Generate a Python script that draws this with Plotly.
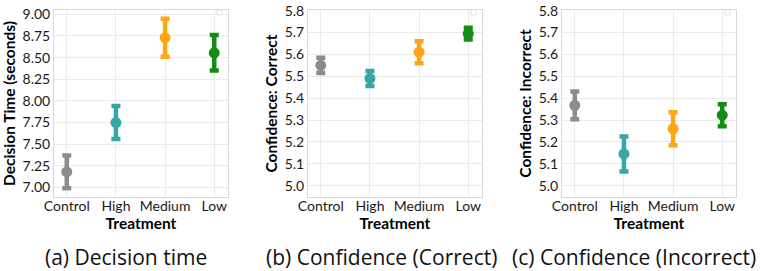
import plotly.graph_objects as go

categories = ["Control", "High", "Medium", "Low"]
colors = ["#8c8c8c", "#36a6a6", "#ffa616", "#158c15"]

decision_mean = [7.18, 7.75, 8.73, 8.555]
decision_err = [0.19, 0.19, 0.22, 0.205]

conf_correct_mean = [5.55, 5.49, 5.61, 5.695]
conf_correct_err = [0.035, 0.034, 0.05, 0.027]

conf_incorrect_mean = [5.367, 5.145, 5.26, 5.322]
conf_incorrect_err = [0.063, 0.08, 0.075, 0.05]

y_titles = ["Decision Time (seconds)", "Confidence: Correct", "Confidence: Incorrect"]
captions = ["(a) Decision time", "(b) Confidence (Correct)", "(c) Confidence (Incorrect)"]

W, H = 761, 271
panels_px = [(54, 228), (308, 482), (562, 736)]
y_top, y_bot = 10, 197

fig = go.Figure()
data = [(decision_mean, decision_err), (conf_correct_mean, conf_correct_err),
        (conf_incorrect_mean, conf_incorrect_err)]
yranges = [[6.89, 9.05], [4.948, 5.803], [4.948, 5.803]]
dticks = [0.25, 0.1, 0.1]
fmts = [".2f", ".1f", ".1f"]

tick_font = dict(family="Lato, Open Sans, sans-serif", size=14, color="#1a1a1a")
title_font = dict(family="Lato, Open Sans, sans-serif", size=15.5, color="#000000")

def fx(px):
    return px / W

def fy(py):
    return 1 - py / H

for p, (means, errs) in enumerate(data):
    xa = "x" if p == 0 else f"x{p+1}"
    ya = "y" if p == 0 else f"y{p+1}"
    for i, cat in enumerate(categories):
        fig.add_trace(go.Scatter(
            x=[cat], y=[means[i]], mode="markers",
            marker=dict(color=colors[i], size=11),
            error_y=dict(type="data", array=[errs[i]], color=colors[i],
                         thickness=4.5, width=4.5),
            xaxis=xa, yaxis=ya, showlegend=False,
        ))
    x0, x1 = panels_px[p]
    axsuffix = "" if p == 0 else str(p + 1)
    fig.update_layout(**{
        f"xaxis{axsuffix}": dict(
            domain=[fx(x0), fx(x1)], anchor=ya, automargin=False,
            categoryorder="array", categoryarray=categories,
            range=[-0.26, 3.28], showgrid=True, gridcolor="#ebebeb",
            showline=True, linecolor="#d9d9d9", mirror=True, linewidth=1,
            ticks="", tickfont=tick_font, zeroline=False,
            ticklabelstandoff=-4,
            title=dict(text="<b>Treatment</b>", font=title_font, standoff=0),
        ),
        f"yaxis{axsuffix}": dict(
            domain=[fy(y_bot), fy(y_top)], anchor=xa, automargin=False,
            range=yranges[p], dtick=dticks[p], tick0=5.0 if p else 7.0,
            tickformat=fmts[p], showgrid=True, gridcolor="#ebebeb",
            showline=True, linecolor="#d9d9d9", mirror=True, linewidth=1,
            ticks="", tickfont=tick_font, zeroline=False,
            ticklabeloverflow="allow",
            title=dict(text=f"<b>{y_titles[p]}</b>", font=title_font, standoff=3),
        ),
    })
    # faint empty legend box in the top-right corner
    fig.add_shape(type="rect", xref="paper", yref="paper",
                  x0=fx(x1 - 11), x1=fx(x1 - 6), y0=fy(15), y1=fy(10),
                  line=dict(color="#e3e3e3", width=1), fillcolor="white")

caption_x = [126, 381, 634]
for cx, cap in zip(caption_x, captions):
    fig.add_annotation(
        x=fx(cx), y=fy(257), xref="paper", yref="paper",
        text=cap, showarrow=False, xanchor="center", yanchor="middle",
        font=dict(family="Open Sans, Lato, sans-serif", size=21, color="#111111"),
    )

fig.update_layout(
    width=W, height=H, margin=dict(l=0, r=0, t=0, b=0),
    paper_bgcolor="white", plot_bgcolor="white",
)

fig.write_html("out.html", config={"displayModeBar": False},
               post_script="document.body.style.margin='0px';")
